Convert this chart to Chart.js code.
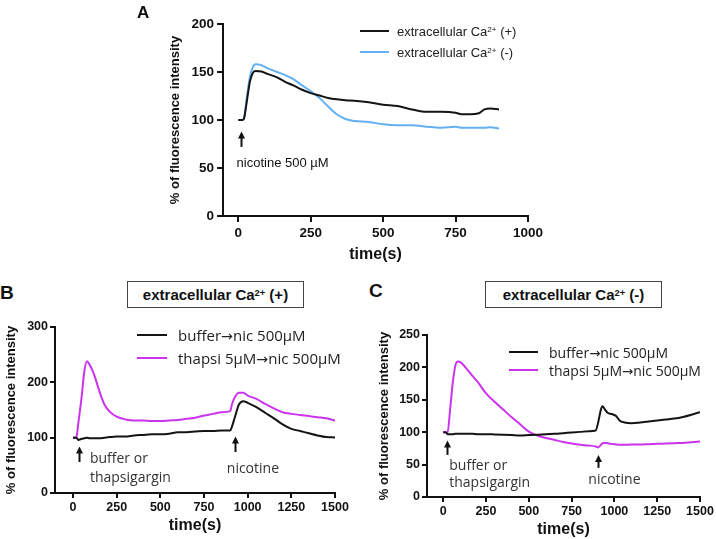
<!DOCTYPE html>
<html>
<head>
<meta charset="utf-8">
<script src="https://cdn.jsdelivr.net/npm/chart.js@4"></script>
<style>
  body { margin: 0; width: 716px; height: 539px; background: #fff; position: relative; overflow: hidden; }
  canvas, .abs { position: absolute; }
  .panel { font-family: "Liberation Sans", Arial, sans-serif; font-weight: bold; line-height: 1; color: #111; }
  .box { border: 1px solid #444; font-family: "Liberation Sans", Arial, sans-serif; font-weight: bold;
         font-size: 15px; text-align: center; line-height: 25px; color: #111; box-sizing: border-box; }
  .leg { display: flex; align-items: center; height: 18px; white-space: nowrap; color: #222; }
  .leg span.sw { display: inline-block; height: 2px; }
  .arr { font-family: "DejaVu Sans", sans-serif; font-size: 0.95em; }
  sup { font-size: 0.62em; vertical-align: 0; position: relative; top: -0.42em; }
</style>
</head>
<body>
<canvas id="chartA" width="430" height="268" style="left:140px;top:0px"></canvas>
<canvas id="chartB" width="355" height="229" style="left:0px;top:310px"></canvas>
<canvas id="chartC" width="346" height="224" style="left:370px;top:315px"></canvas>

<div class="abs panel" style="left:137px;top:4px;font-size:17px">A</div>
<div class="abs panel" style="left:0px;top:283px;font-size:19px">B</div>
<div class="abs panel" style="left:369px;top:281px;font-size:19px">C</div>

<div class="abs box" style="left:127px;top:281px;width:177px;height:27px">extracellular Ca<sup>2+</sup> (+)</div>
<div class="abs box" style="left:485px;top:281px;width:177px;height:27px">extracellular Ca<sup>2+</sup> (-)</div>

<div id="legA"></div>
<div id="legB"></div>
<div id="legC"></div>

<script>
// Panel A: nicotine 500 uM, with / without extracellular Ca2+
const tA = [0, 15, 20, 30, 40, 50, 60, 80, 100, 130, 160, 190, 220, 250, 280, 310, 340, 370, 400, 450,
            500, 550, 600, 650, 700, 750, 770, 800, 830, 850, 870, 900];
const caPlusA = [100, 100, 102, 121, 140, 149, 151, 150.5, 148, 145, 140, 136, 131.5, 128, 125.5, 123, 121.5, 120.5, 120, 118.5,
                 116, 114.5, 111, 108.5, 108.5, 107.5, 106, 106, 107, 111, 112, 111];
const caMinusA = [100, 100, 102, 125, 145, 155, 158, 157, 154, 150.5, 147, 142.5, 136, 130, 123, 114, 106, 101, 99, 98,
                  95.5, 94.5, 94.5, 93, 92, 93, 92, 92, 92, 92, 92.5, 91];

// Panel B: extracellular Ca2+ (+)
const tB = [0, 20, 30, 50, 65, 80, 95, 120, 150, 180, 210, 250, 300, 350, 400, 450, 500, 550, 600, 650,
            700, 750, 800, 850, 900, 910, 925, 950, 975, 1000, 1050, 1100, 1150, 1200, 1250, 1300, 1350, 1400, 1450, 1500];
const bufferB = [100, 100, 96, 98, 99, 100, 99, 99, 99, 100, 101, 102, 102, 104, 105, 106, 106, 107, 110, 110,
                 111, 112, 112, 113, 113, 120, 135, 160, 166, 163, 155, 145, 135, 124, 116, 112, 108, 104, 101, 100.5];
const thapsiB = [100, 101, 125, 175, 220, 238, 232, 215, 185, 160, 147, 138, 133, 131, 131, 130, 130, 131, 132, 134,
                 136, 140, 143, 146, 148, 160, 172, 181, 181, 176, 170, 161, 153, 146, 143, 141, 139, 137, 135, 131];

// Panel C: extracellular Ca2+ (-)
const tC = [0, 15, 25, 40, 55, 70, 85, 100, 130, 170, 200, 250, 300, 350, 400, 450, 500, 550, 600, 650,
            700, 750, 800, 850, 890, 905, 920, 930, 945, 960, 985, 1010, 1030, 1060, 1100, 1150, 1200, 1250, 1300, 1350,
            1400, 1450, 1500];
const bufferC = [100, 100, 97, 97, 97, 97.5, 97.5, 97.5, 97.5, 97.5, 97, 97, 96.5, 96, 95.5, 95, 95.5, 96, 97, 97.5,
                 98.5, 99.5, 100.5, 101.5, 102.5, 115, 134, 140, 135, 130, 128, 125, 118, 115, 114, 115, 116.5, 118, 119.5, 121,
                 123.5, 127, 131];
const thapsiC = [100, 99.5, 99, 135, 175, 202, 209, 208, 200, 187, 178, 160, 147, 135, 123, 112, 101, 95, 91, 88,
                 85, 82.5, 80.5, 79.5, 78, 76.5, 80, 83, 83.5, 83, 82, 81, 80.5, 80.5, 81, 81, 81.5, 82, 82.5, 83,
                 83.5, 84.5, 85.5];

const ticksA = [0, 250, 500, 750, 1000];
const ticksBC = [0, 250, 500, 750, 1000, 1250, 1500];

const BLACK = "#141414";
const BLUE = "#63b0f2";
const MAGENTA = "#cc33ee";

const TICK_FONT = "Liberation Sans, Arial, sans-serif";
const NOTE_FONT = "'Open Sans', sans-serif";
const ARROW = '<span class="arr">\u2192</span>';

function toPoints(t, v) {
    return t.map((x, i) => ({ x: x, y: v[i] }));
}

// arrows + text annotations placed in data coordinates
const notesPlugin = {
    id: "notes",
    afterDatasetsDraw(chart, args, opts) {
        let ctx = chart.ctx;
        let x = chart.scales.x, y = chart.scales.y;
        ctx.save();
        (opts.arrows || []).forEach(a => {
            let px = Math.round(x.getPixelForValue(a.x)) + 0.5;
            let top = y.getPixelForValue(a.to);
            let bot = y.getPixelForValue(a.from);
            ctx.strokeStyle = "#111";
            ctx.lineWidth = 2;
            ctx.beginPath();
            ctx.moveTo(px, bot);
            ctx.lineTo(px, top + 5);
            ctx.stroke();
            ctx.fillStyle = "#111";
            ctx.beginPath();
            ctx.moveTo(px, top);
            ctx.lineTo(px - 3.5, top + 7);
            ctx.lineTo(px + 3.5, top + 7);
            ctx.closePath();
            ctx.fill();
        });
        ctx.font = opts.font;
        ctx.fillStyle = opts.color || "#222";
        ctx.textBaseline = "middle";
        (opts.labels || []).forEach(l => {
            ctx.textAlign = l.align || "left";
            ctx.fillText(l.text, x.getPixelForValue(l.x), y.getPixelForValue(l.y));
        });
        ctx.restore();
    }
};

function makeChart(id, s) {
    let datasets = s.series.map(d => ({
        data: toPoints(s.t, d.values),
        borderColor: d.color,
        borderWidth: 2,
        pointRadius: 0,
        cubicInterpolationMode: "monotone",
        fill: false
    }));

    return new Chart(document.getElementById(id), {
        type: "line",
        data: { datasets: datasets },
        plugins: [notesPlugin],
        options: {
            responsive: false,
            animation: false,
            layout: { padding: { top: s.padTop, right: s.padRight, left: 0, bottom: 0 } },
            plugins: {
                legend: { display: false },
                tooltip: { enabled: false },
                notes: s.notes
            },
            scales: {
                x: {
                    type: "linear",
                    min: s.xMin,
                    max: s.xMax,
                    afterBuildTicks: axis => { axis.ticks = s.xTicks.map(v => ({ value: v })); },
                    afterFit: axis => { axis.height = s.xHeight; },
                    ticks: {
                        callback: v => String(v),
                        autoSkip: false,
                        maxRotation: 0,
                        color: "#111",
                        padding: s.xTickPad,
                        font: { family: TICK_FONT, size: s.tickSize, weight: "bold" }
                    },
                    grid: { drawOnChartArea: false, tickLength: s.tickLen, color: "#111", lineWidth: 2 },
                    border: { color: "#111", width: 2 },
                    title: {
                        display: true,
                        text: "time(s)",
                        color: "#111",
                        font: { family: TICK_FONT, size: 16, weight: "bold" },
                        padding: { top: 0, bottom: s.xTitlePad }
                    }
                },
                y: {
                    min: 0,
                    max: s.yMax,
                    ticks: {
                        stepSize: s.yStep,
                        color: "#111",
                        padding: s.yTickPad,
                        font: { family: TICK_FONT, size: s.tickSize, weight: "bold" }
                    },
                    afterFit: axis => { axis.width = s.yWidth; },
                    grid: { drawOnChartArea: false, tickLength: s.tickLen, color: "#111", lineWidth: 2 },
                    border: { color: "#111", width: 2 },
                    title: {
                        display: true,
                        text: "% of fluorescence intensity",
                        color: "#111",
                        font: { family: TICK_FONT, size: 13, weight: "bold" },
                        padding: { top: s.yTitlePad, bottom: 0 }
                    }
                }
            }
        }
    });
}

function makeLegend(id, rows, s) {
    let html = "";
    rows.forEach((r, i) => {
        html += '<div class="abs leg" style="left:' + s.left + 'px;top:' + (s.tops[i] - 9) + 'px;font:' + s.font + '">' +
            '<span class="sw" style="width:' + s.sw + 'px;margin-right:' + s.gap + 'px;background:' + r.color + '"></span>' +
            '<span>' + r.label + '</span></div>';
    });
    document.getElementById(id).innerHTML = html;
}

makeChart("chartA", {
    t: tA,
    series: [{ values: caPlusA, color: BLACK }, { values: caMinusA, color: BLUE }],
    xMin: -53, xMax: 1000, xTicks: ticksA, yMax: 200, yStep: 50,
    padTop: 24, padRight: 42, yWidth: 83, xHeight: 52,
    tickSize: 13.5, tickLen: 6, xTickPad: 3, yTickPad: 3, xTitlePad: 4, yTitlePad: 28,
    notes: {
        font: "13px 'Liberation Sans', Arial, sans-serif",
        color: "#111",
        arrows: [{ x: 10, from: 72, to: 88 }],
        labels: [{ text: "nicotine 500 \u00b5M", x: -6, y: 55 }]
    }
});

makeChart("chartB", {
    t: tB,
    series: [{ values: bufferB, color: BLACK }, { values: thapsiB, color: MAGENTA }],
    xMin: -103, xMax: 1500, xTicks: ticksBC, yMax: 300, yStep: 100,
    padTop: 17, padRight: 20, yWidth: 55, xHeight: 46,
    tickSize: 12.5, tickLen: 5, xTickPad: 2, yTickPad: 2, xTitlePad: 4, yTitlePad: 4,
    notes: {
        font: "14px " + NOTE_FONT,
        color: "#333",
        arrows: [{ x: 34, from: 56, to: 84 }, { x: 927, from: 74, to: 102 }],
        labels: [
            { text: "buffer or", x: 97, y: 62 },
            { text: "thapsigargin", x: 97, y: 27 },
            { text: "nicotine", x: 1030, y: 43, align: "center" }
        ]
    }
});

makeChart("chartC", {
    t: tC,
    series: [{ values: bufferC, color: BLACK }, { values: thapsiC, color: MAGENTA }],
    xMin: -95, xMax: 1500, xTicks: ticksBC, yMax: 250, yStep: 50,
    padTop: 20, padRight: 16, yWidth: 57, xHeight: 42,
    tickSize: 12.5, tickLen: 5, xTickPad: 2, yTickPad: 2, xTitlePad: 0, yTitlePad: 7,
    notes: {
        font: "14px " + NOTE_FONT,
        color: "#333",
        arrows: [{ x: 22, from: 65, to: 87 }, { x: 906, from: 45, to: 65 }],
        labels: [
            { text: "buffer or", x: 35, y: 48 },
            { text: "thapsigargin", x: 35, y: 22 },
            { text: "nicotine", x: 1000, y: 26, align: "center" }
        ]
    }
});

makeLegend("legA", [
    { label: "extracellular Ca<sup>2+</sup> (+)", color: BLACK },
    { label: "extracellular Ca<sup>2+</sup> (-)", color: BLUE }
], { left: 360, tops: [31, 52], sw: 29, gap: 8, font: "13px 'Liberation Sans', Arial, sans-serif" });

makeLegend("legB", [
    { label: "buffer" + ARROW + "nic 500\u00b5M", color: BLACK },
    { label: "thapsi 5\u00b5M" + ARROW + "nic 500\u00b5M", color: MAGENTA }
], { left: 137, tops: [335, 358], sw: 30, gap: 11, font: "15px 'Open Sans', sans-serif" });

makeLegend("legC", [
    { label: "buffer" + ARROW + "nic 500\u00b5M", color: BLACK },
    { label: "thapsi 5\u00b5M" + ARROW + "nic 500\u00b5M", color: MAGENTA }
], { left: 509, tops: [352, 370], sw: 29, gap: 11, font: "14px 'Open Sans', sans-serif" });
</script>
</body>
</html>
